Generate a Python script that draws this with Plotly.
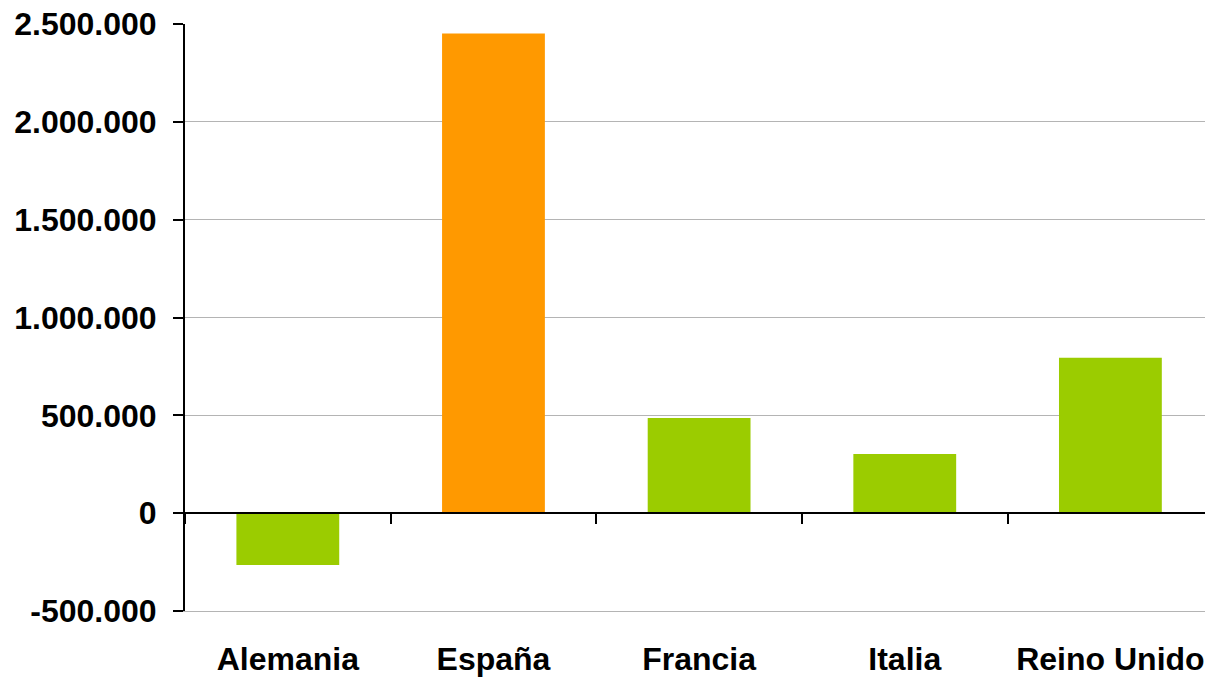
import plotly.graph_objects as go

countries = ["Alemania", "España", "Francia", "Italia", "Reino Unido"]
values = [-265000, 2451000, 487000, 303000, 794000]
bar_colors = ["#9BCC00", "#FF9900", "#9BCC00", "#9BCC00", "#9BCC00"]
y_tickvals = [-500000, 0, 500000, 1000000, 1500000, 2000000, 2500000]
y_ticktext = ["-500.000", "0", "500.000", "1.000.000", "1.500.000", "2.000.000", "2.500.000"]

font = dict(family="Liberation Sans, Arial, sans-serif", size=32, color="black", weight="bold")
grid_color = "#B4B4B4"

fig = go.Figure()
fig.add_trace(go.Bar(x=countries, y=values, marker=dict(color=bar_colors, line=dict(width=0)),
                     width=0.5, showlegend=False, hoverinfo="x+y"))
fig.add_trace(go.Scatter(x=countries, y=[0] * len(countries), xaxis="x2", mode="markers",
                         marker=dict(opacity=0), showlegend=False, hoverinfo="skip"))

xr = [-0.5, 4.46]
fig.update_layout(
    width=1205, height=677,
    margin=dict(l=185, r=0, t=24, b=66),
    paper_bgcolor="white", plot_bgcolor="white",
    font=font,
    xaxis=dict(type="category", range=xr, showline=True, linecolor=grid_color, linewidth=1,
               ticks="", showgrid=False,
               tickfont=font, ticklabelstandoff=20, zeroline=False, automargin=False),
    xaxis2=dict(type="category", overlaying="x", matches="x", anchor="free", position=1/6,
                side="bottom", range=xr, showline=True, linecolor="black", linewidth=2,
                ticks="outside", tickson="boundaries", ticklen=10, tickwidth=2, tickcolor="black",
                showticklabels=False, showgrid=False, zeroline=False, automargin=False),
    yaxis=dict(range=[-500000, 2500000], tickvals=y_tickvals, ticktext=y_ticktext,
               showline=True, linecolor="black", linewidth=2, ticks="outside", ticklen=10,
               tickwidth=2, tickcolor="black", showgrid=True, gridcolor=grid_color, gridwidth=1,
               zeroline=False, tickfont=font, ticklabelstandoff=10, automargin=False,
               ticklabeloverflow="allow"),
    bargap=0.5,
)

fig.write_html(
    "out.html",
    config={"displayModeBar": False},
    post_script="document.body.style.margin='0';document.body.style.overflow='hidden';",
)
